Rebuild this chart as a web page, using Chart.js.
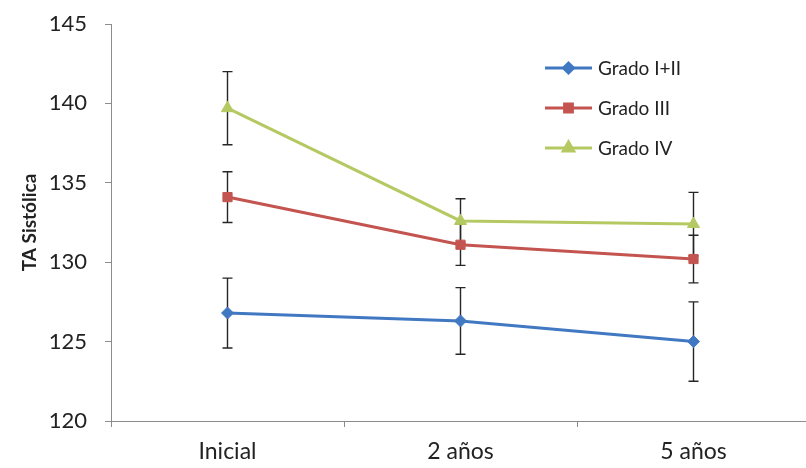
<!DOCTYPE html>
<html lang="es">
<head>
<meta charset="utf-8">
<title>TA Sistólica</title>
<script src="https://cdn.jsdelivr.net/npm/chart.js@4/dist/chart.umd.min.js"></script>
<style>
    html, body { margin: 0; padding: 0; background: #fff; overflow: hidden; }
    #wrap { width: 806px; height: 468px; overflow: hidden; }
</style>
</head>
<body>
<div id="wrap"><canvas id="grafico" width="818" height="468"></canvas></div>
<script>
// Datos
const categorias = ['Inicial', '2 años', '5 años'];
const gradoI_II = [126.8, 126.3, 125.0];
const errI_II = [2.2, 2.1, 2.5];
const gradoIII = [134.1, 131.1, 130.2];
const errIII = [1.6, 1.3, 1.5];
const gradoIV = [139.7, 132.6, 132.4];
const errIV = [2.3, 1.4, 2.0];
const ticksY = [120, 125, 130, 135, 140, 145];

const fuente = 'Lato, "Open Sans", sans-serif';

// Barras de error, dibujadas antes de los marcadores
const barrasError = {
    id: 'barrasError',
    beforeDatasetsDraw(chart) {
        const ctx = chart.ctx;
        const x = chart.scales.x;
        const y = chart.scales.y;
        ctx.save();
        ctx.strokeStyle = '#262626';
        ctx.lineWidth = 1.4;
        chart.data.datasets.forEach(ds => {
            ds.data.forEach((v, i) => {
                const e = ds.errores[i];
                const px = x.getPixelForValue(i);
                const top = y.getPixelForValue(v + e);
                const bot = y.getPixelForValue(v - e);
                ctx.beginPath();
                ctx.moveTo(px, top); ctx.lineTo(px, bot);
                ctx.moveTo(px - 5, top); ctx.lineTo(px + 5, top);
                ctx.moveTo(px - 5, bot); ctx.lineTo(px + 5, bot);
                ctx.stroke();
            });
        });
        ctx.restore();
    }
};

// Leyenda dentro del área del gráfico
const leyenda = {
    id: 'leyenda',
    afterDraw(chart) {
        const ctx = chart.ctx;
        const x0 = 545, x1 = 592, filas = [68, 108, 148];
        ctx.save();
        chart.data.datasets.forEach((ds, i) => {
            const yy = filas[i];
            ctx.strokeStyle = ds.borderColor;
            ctx.lineWidth = 3;
            ctx.beginPath();
            ctx.moveTo(x0, yy); ctx.lineTo(x1, yy);
            ctx.stroke();
            ctx.fillStyle = ds.pointBackgroundColor;
            ctx.strokeStyle = ds.pointBackgroundColor;
            Chart.helpers.drawPoint(ctx, {
                pointStyle: ds.pointStyle,
                radius: ds.pointRadius - 1,
                borderWidth: 1,
                rotation: 0
            }, (x0 + x1) / 2, yy);
            ctx.fillStyle = '#222';
            ctx.font = '19px ' + fuente;
            ctx.textBaseline = 'middle';
            ctx.fillText(ds.label, 598, yy + 1);
        });
        ctx.restore();
    }
};

const canvas = document.getElementById('grafico');
new Chart(canvas, {
    type: 'line',
    data: {
        labels: categorias,
        datasets: [
            {
                label: 'Grado I+II',
                data: gradoI_II,
                errores: errI_II,
                borderColor: '#4178c2',
                pointBackgroundColor: '#4178c2',
                pointBorderColor: '#4178c2',
                pointStyle: 'rectRot',
                pointRadius: 6
            },
            {
                label: 'Grado III',
                data: gradoIII,
                errores: errIII,
                borderColor: '#c4544f',
                pointBackgroundColor: '#c4544f',
                pointBorderColor: '#c4544f',
                pointStyle: 'rect',
                pointRadius: 6.5
            },
            {
                label: 'Grado IV',
                data: gradoIV,
                errores: errIV,
                borderColor: '#b5c962',
                pointBackgroundColor: '#b5c962',
                pointBorderColor: '#b5c962',
                pointStyle: 'triangle',
                pointRadius: 7
            }
        ]
    },
    options: {
        responsive: false,
        animation: false,
        devicePixelRatio: 1,
        elements: {
            line: { borderWidth: 3, tension: 0 },
            point: { borderWidth: 1 }
        },
        layout: { padding: { top: 24, right: 2, left: 0, bottom: 0 } },
        plugins: {
            legend: { display: false },
            tooltip: { enabled: false }
        },
        scales: {
            x: {
                type: 'category',
                offset: true,
                afterFit(scale) { scale.height = 47; },
                grid: { display: true, drawOnChartArea: false, offset: true, tickLength: 6, color: '#8c8c8c' },
                border: { color: '#8c8c8c' },
                ticks: { color: '#222', font: { family: fuente, size: 23 }, padding: 11 }
            },
            y: {
                min: 120,
                max: 145,
                afterFit(scale) {
                    scale.width = 111;
                    scale.paddingTop = 0;
                    scale.paddingBottom = 0;
                },
                afterBuildTicks(scale) { scale.ticks = ticksY.map(v => ({ value: v })); },
                grid: { display: true, drawOnChartArea: false, tickLength: 6, color: '#8c8c8c' },
                border: { color: '#8c8c8c' },
                ticks: { color: '#222', font: { family: fuente, size: 22 }, padding: 18 },
                title: {
                    display: true,
                    text: 'TA Sistólica',
                    color: '#222',
                    font: { family: fuente, size: 19, weight: 'bold' },
                    padding: { top: 18, bottom: 0 }
                }
            }
        }
    },
    plugins: [barrasError, leyenda]
});
</script>
</body>
</html>
